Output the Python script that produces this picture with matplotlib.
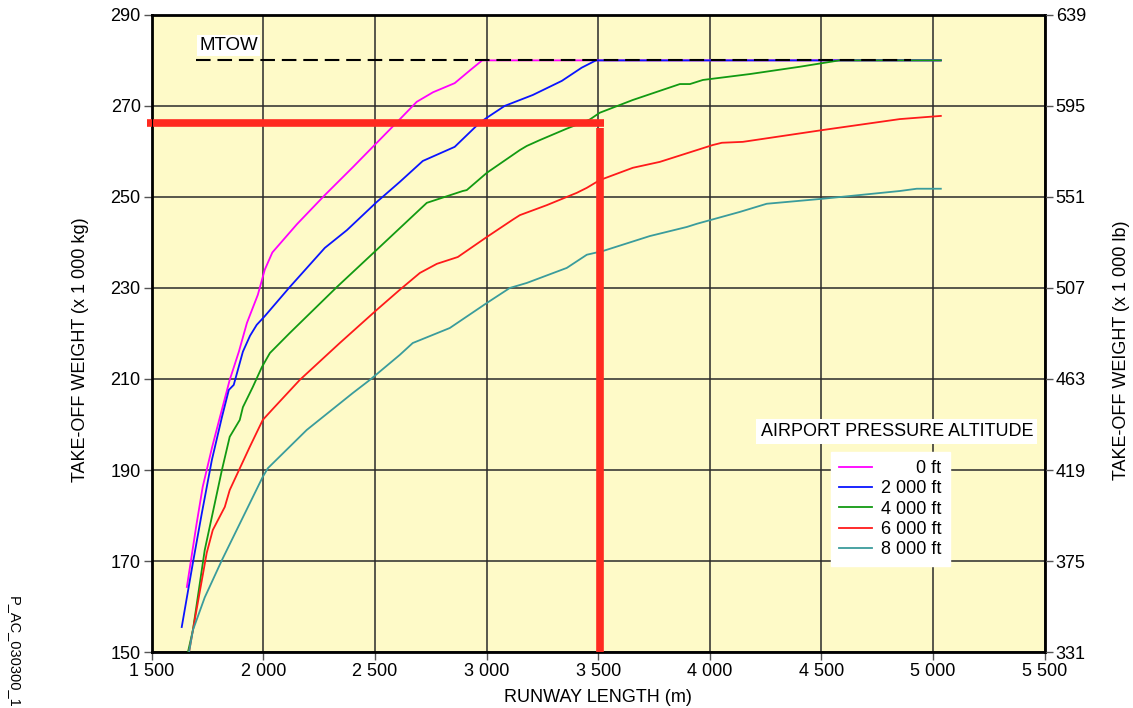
import matplotlib
matplotlib.use("Agg")
import matplotlib.pyplot as plt

plt.rcParams['font.family'] = ['Liberation Sans', 'DejaVu Sans']

# runway length (m) / take-off weight (x 1000 kg)
x_0ft = [1657, 1700, 1728, 1770, 1805, 1849, 1890, 1926, 1975, 2006, 2040, 2150, 2275, 2400,
         2508, 2600, 2687, 2760, 2857, 2930, 2980, 5035]
y_0ft = [164.3, 178, 186.3, 195, 201.6, 209.8, 216, 222.3, 228.5, 234, 237.8, 244, 250.4, 256.5,
         261.9, 266.5, 270.9, 273, 275, 278, 280, 280]

x_2000ft = [1634, 1684, 1724, 1769, 1814, 1845, 1867, 1908, 1940, 1970, 2006, 2118, 2275, 2374,
            2508, 2611, 2714, 2857, 2969, 3001, 3081, 3207, 3337, 3426, 3490, 5035]
y_2000ft = [155.5, 169.6, 180.5, 192.2, 201.6, 207.6, 208.7, 216, 219.5, 221.9, 223.8, 230.2, 238.8, 242.7,
            248.9, 253.3, 257.9, 261, 266.3, 267.4, 270, 272.4, 275.5, 278.4, 280, 280]

x_4000ft = [1661, 1684, 1737, 1769, 1814, 1849, 1894, 1908, 1952, 1993, 2029, 2118, 2329, 2508,
            2732, 2893, 2911, 3001, 3149, 3180, 3239, 3359, 3462, 3507, 3655, 3866, 3911, 3969,
            4180, 4403, 4580, 5035]
y_4000ft = [149.8, 154.8, 172.4, 179.7, 190, 197.3, 201, 203.8, 208.2, 212.6, 215.7, 220.1, 230.2, 238.4,
            248.7, 251.3, 251.5, 255.3, 260.3, 261.2, 262.5, 265, 267, 268.5, 271.3, 274.8, 274.8, 275.7,
            277, 278.6, 280, 280]

x_6000ft = [1666, 1684, 1746, 1773, 1827, 1849, 1939, 1997, 2038, 2163, 2342, 2508, 2611, 2701,
            2777, 2871, 3001, 3117, 3149, 3270, 3404, 3449, 3507, 3655, 3776, 4013, 4054, 4148,
            4506, 4851, 5035]
y_6000ft = [149.8, 154.8, 171.8, 176.8, 181.9, 185.6, 195.1, 201, 203.2, 209.8, 217.9, 225.2, 229.6, 233.3,
            235.3, 236.8, 241.2, 245, 246, 248.2, 250.9, 252, 253.7, 256.4, 257.7, 261.4, 261.9, 262.1,
            264.7, 267.1, 267.8]

x_8000ft = [1666, 1684, 1737, 1814, 1939, 1997, 2020, 2194, 2400, 2477, 2611, 2669, 2835, 3001,
            3104, 3180, 3359, 3449, 3520, 3731, 3897, 3942, 4134, 4255, 4506, 4851, 4927, 5035]
y_8000ft = [149.8, 154.8, 162, 170.2, 182.7, 188.5, 190.4, 198.8, 206.9, 209.8, 215.3, 217.9, 221.2, 226.7,
            230, 231.1, 234.4, 237.3, 238.1, 241.4, 243.4, 244.1, 246.7, 248.5, 249.6, 251.3, 251.8, 251.8]

series = [
    (x_0ft, y_0ft, '#ff00ff', '\u2007\u2007\u2007 0 ft'),
    (x_2000ft, y_2000ft, '#0a14ff', '2 000 ft'),
    (x_4000ft, y_4000ft, '#129a12', '4 000 ft'),
    (x_6000ft, y_6000ft, '#ff1a1a', '6 000 ft'),
    (x_8000ft, y_8000ft, '#3a9c9c', '8 000 ft'),
]

x_ticks = [1500, 2000, 2500, 3000, 3500, 4000, 4500, 5000, 5500]
x_ticklabels = ['1 500', '2 000', '2 500', '3 000', '3 500', '4 000', '4 500', '5 000', '5 500']
y_ticks = [150, 170, 190, 210, 230, 250, 270, 290]
y_ticklabels_lb = ['331', '375', '419', '463', '507', '551', '595', '639']

mtow = 280
mtow_x = [1700, 4900]
example_length = 3510
example_weight = 266.3

fs = 13

fig = plt.figure(figsize=(11.33, 7.08), dpi=100)
ax = fig.add_axes([0.134, 0.079, 0.788, 0.9])
ax.set_facecolor('#fefac8')

for xs, ys, c, lab in series:
    ax.plot(xs, ys, color=c, lw=1.3, label=lab, zorder=3)

ax.plot(mtow_x, [mtow, mtow], color='black', lw=1.5, dashes=(7, 3.3), zorder=4)
ax.text(1712, 283.3, 'MTOW', fontsize=13.5, va='center', ha='left',
        bbox=dict(facecolor='white', edgecolor='none', pad=1.5), zorder=5)

# example: 3 500 m runway
ax.plot([1480, 3527], [example_weight, example_weight], color='#ff2a20', lw=5.5,
        solid_capstyle='butt', zorder=6, clip_on=False)
ax.plot([example_length, example_length], [example_weight - 1.2, 150], color='#ff2a20', lw=5.5,
        solid_capstyle='butt', zorder=6)

ax.set_xlim(1500, 5500)
ax.set_ylim(150, 290)
ax.set_xticks(x_ticks)
ax.set_xticklabels(x_ticklabels)
ax.set_yticks(y_ticks)
ax.grid(True, color='#2a2a2a', lw=1.1)
ax.set_axisbelow(True)
ax.tick_params(labelsize=fs, length=6, width=1, color='#555', pad=2)
for s in ax.spines.values():
    s.set_linewidth(2)
ax.set_xlabel('RUNWAY LENGTH (m)', fontsize=fs, labelpad=6)

ax2 = ax.twinx()
ax2.set_ylim(150, 290)
ax2.set_yticks(y_ticks)
ax2.set_yticklabels(y_ticklabels_lb)
ax2.tick_params(labelsize=fs, length=6, width=1, color='#555', pad=2)

fig.text(81 / 1133, 1 - 350 / 708, 'TAKE-OFF WEIGHT (x 1 000 kg)', fontsize=fs,
         rotation=90, ha='center', va='center')
fig.text(1121 / 1133, 1 - 350 / 708, 'TAKE-OFF WEIGHT (x 1 000 lb)', fontsize=fs,
         rotation=90, ha='center', va='center')

ax.text(4838, 198.4, 'AIRPORT PRESSURE ALTITUDE', fontsize=fs, ha='center', va='center',
        bbox=dict(facecolor='white', edgecolor='none', pad=3), zorder=5)
leg = ax.legend(loc='upper left', bbox_to_anchor=(0.761, 0.314), borderaxespad=0,
                fontsize=fs, frameon=True, fancybox=False, framealpha=1,
                edgecolor='white', labelspacing=0.18, handlelength=1.8, handletextpad=0.5,
                borderpad=0.45)
leg.set_zorder(5)

fig.text(0.006, 1 - 596 / 708, 'P_AC_030300_1', rotation=270, fontsize=10.5,
         ha='left', va='top')

fig.savefig('out.png', dpi=100)
